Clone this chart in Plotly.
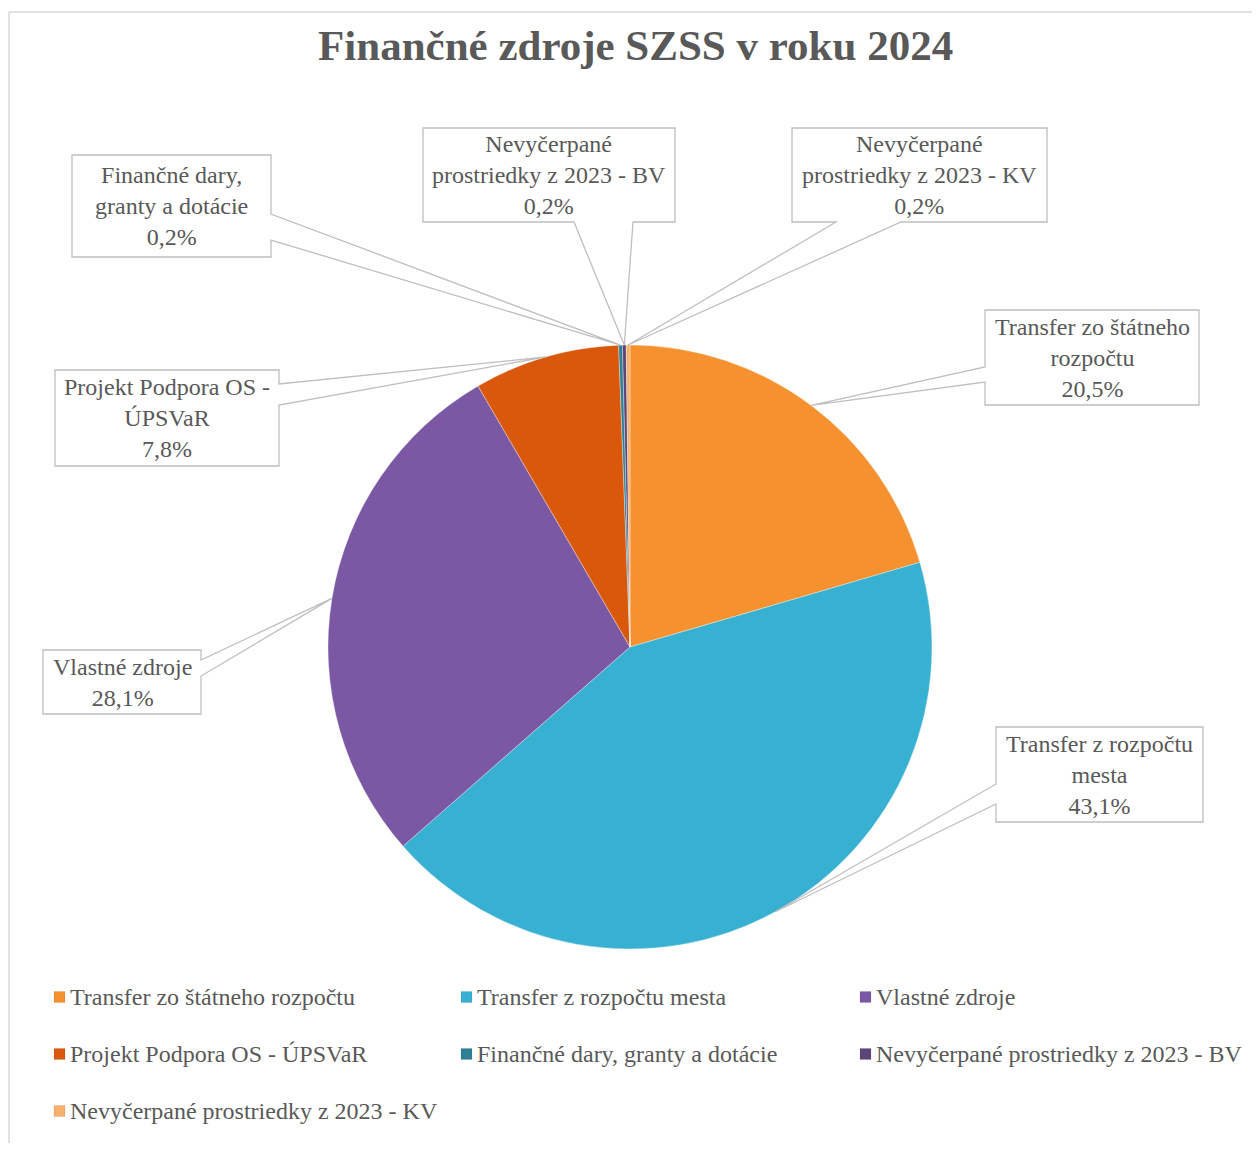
import math
import plotly.graph_objects as go

# ---------------- data ----------------
labels = [
    "Transfer zo štátneho rozpočtu",
    "Transfer z rozpočtu mesta",
    "Vlastné zdroje",
    "Projekt Podpora OS - ÚPSVaR",
    "Finančné dary, granty a dotácie",
    "Nevyčerpané prostriedky z 2023 - BV",
    "Nevyčerpané prostriedky z 2023 - KV",
]
values = [20.5, 43.1, 28.1, 7.8, 0.2, 0.2, 0.2]
label_lines = [
    ["Transfer zo štátneho", "rozpočtu"],
    ["Transfer z rozpočtu", "mesta"],
    ["Vlastné zdroje"],
    ["Projekt Podpora OS -", "ÚPSVaR"],
    ["Finančné dary,", "granty a dotácie"],
    ["Nevyčerpané", "prostriedky z 2023 - BV"],
    ["Nevyčerpané", "prostriedky z 2023 - KV"],
]
title_text = "Finančné zdroje SZSS v roku 2024"

# ---------------- styles / layout ----------------
colors = ["#F5922F", "#37B0D1", "#7A58A3", "#D9580B", "#2E8097", "#5B4579", "#F8B06B"]
OFF = 8                      # page body margin
W, H = 1260 - 2 * OFF, 1151 - 2 * OFF
CX, CY, R = 630, 647, 302    # target page pixel positions
TEXT_COLOR = "#595959"
SERIF = "Liberation Serif, Times New Roman, serif"

# callout boxes (page pixels): x0, y0, x1, y1, side where wedge attaches, positions along side
callouts = [
    (985, 310, 1199, 405, "left", 367, 382),
    (996, 727, 1203, 822, "left", 784, 804),
    (43, 650, 201, 714, "right", 660, 676),
    (55, 370, 279, 466, "right", 384, 405),
    (72, 155, 271, 257, "right", 214, 240),
    (423, 128, 675, 222, "bottom", 574, 633),
    (792, 128, 1047, 222, "bottom", 836, 901),
]


def px(x):
    return (x - OFF) / W


def py(y):
    return 1 - (y - OFF) / H


fig = go.Figure()
fig.add_trace(go.Pie(
    labels=labels,
    values=values,
    sort=False,
    direction="clockwise",
    rotation=0,
    textinfo="none",
    marker=dict(colors=colors, line=dict(color="rgba(255,255,255,0.35)", width=1)),
    domain=dict(x=[px(CX - R), px(CX + R)], y=[py(CY + R), py(CY - R)]),
    showlegend=False,
    hoverinfo="label+percent",
))

shapes = []
annotations = []

# outer chart border (top and left edges visible)
shapes.append(dict(type="line", xref="paper", yref="paper",
                   x0=px(9), x1=1.0, y0=py(12), y1=py(12),
                   line=dict(color="#D9D9D9", width=1.5)))
shapes.append(dict(type="line", xref="paper", yref="paper",
                   x0=px(9), x1=px(9), y0=py(12), y1=0.0,
                   line=dict(color="#D9D9D9", width=1.5)))

# callouts: tips computed from data (slice mid-angle on pie edge)
total = sum(values)
cum = 0.0
for i, v in enumerate(values):
    mid = (cum + v / 2) / total * 2 * math.pi
    cum += v
    tx = CX + R * math.sin(mid)
    ty = CY - R * math.cos(mid)
    x0, y0, x1, y1, side, p1, p2 = callouts[i]
    if side == "right":
        A = (x1, p1); B = (x1, p2)
        pts = [A, (x1, y0), (x0, y0), (x0, y1), (x1, y1), B, (tx, ty)]
    elif side == "left":
        A = (x0, p1); B = (x0, p2)
        pts = [A, (x0, y0), (x1, y0), (x1, y1), (x0, y1), B, (tx, ty)]
    else:
        A = (p1, y1); B = (p2, y1)
        pts = [A, (x0, y1), (x0, y0), (x1, y0), (x1, y1), B, (tx, ty)]
    path = "M " + " L ".join(f"{px(a):.5f},{py(b):.5f}" for a, b in pts) + " Z"
    shapes.append(dict(type="path", xref="paper", yref="paper", path=path,
                       line=dict(color="#BFBFBF", width=1.3), fillcolor="rgba(0,0,0,0)", layer="above"))
    pct = f"{v / total * 100:.1f}".replace(".", ",") + "%"
    text = "<br>".join(label_lines[i] + [pct])
    annotations.append(dict(xref="paper", yref="paper", x=px((x0 + x1) / 2), y=py((y0 + y1) / 2),
                            xanchor="center", yanchor="middle", align="center", showarrow=False,
                            text=text, font=dict(family=SERIF, size=24, color=TEXT_COLOR)))

# manual legend
col_x = [54, 461, 860]
row_y = [997, 1054, 1111]
for i, lab in enumerate(labels):
    cx = col_x[i % 3]
    ry = row_y[i // 3]
    shapes.append(dict(type="rect", xref="paper", yref="paper",
                       x0=px(cx), x1=px(cx + 11), y0=py(ry + 5.5), y1=py(ry - 5.5),
                       line=dict(color="rgba(0,0,0,0.15)", width=0.5), fillcolor=colors[i]))
    annotations.append(dict(xref="paper", yref="paper", x=px(cx + 14), y=py(ry),
                            xanchor="left", yanchor="middle", showarrow=False,
                            text=lab, font=dict(family=SERIF, size=24, color=TEXT_COLOR)))

# title
annotations.append(dict(xref="paper", yref="paper", x=px(635), y=py(46),
                        xanchor="center", yanchor="middle", showarrow=False,
                        text=f"<b>{title_text}</b>",
                        font=dict(family=SERIF, size=43, color=TEXT_COLOR)))

fig.update_layout(
    width=W, height=H,
    margin=dict(l=0, r=0, t=0, b=0),
    paper_bgcolor="white",
    plot_bgcolor="white",
    shapes=shapes,
    annotations=annotations,
)

fig.write_html("out.html")
